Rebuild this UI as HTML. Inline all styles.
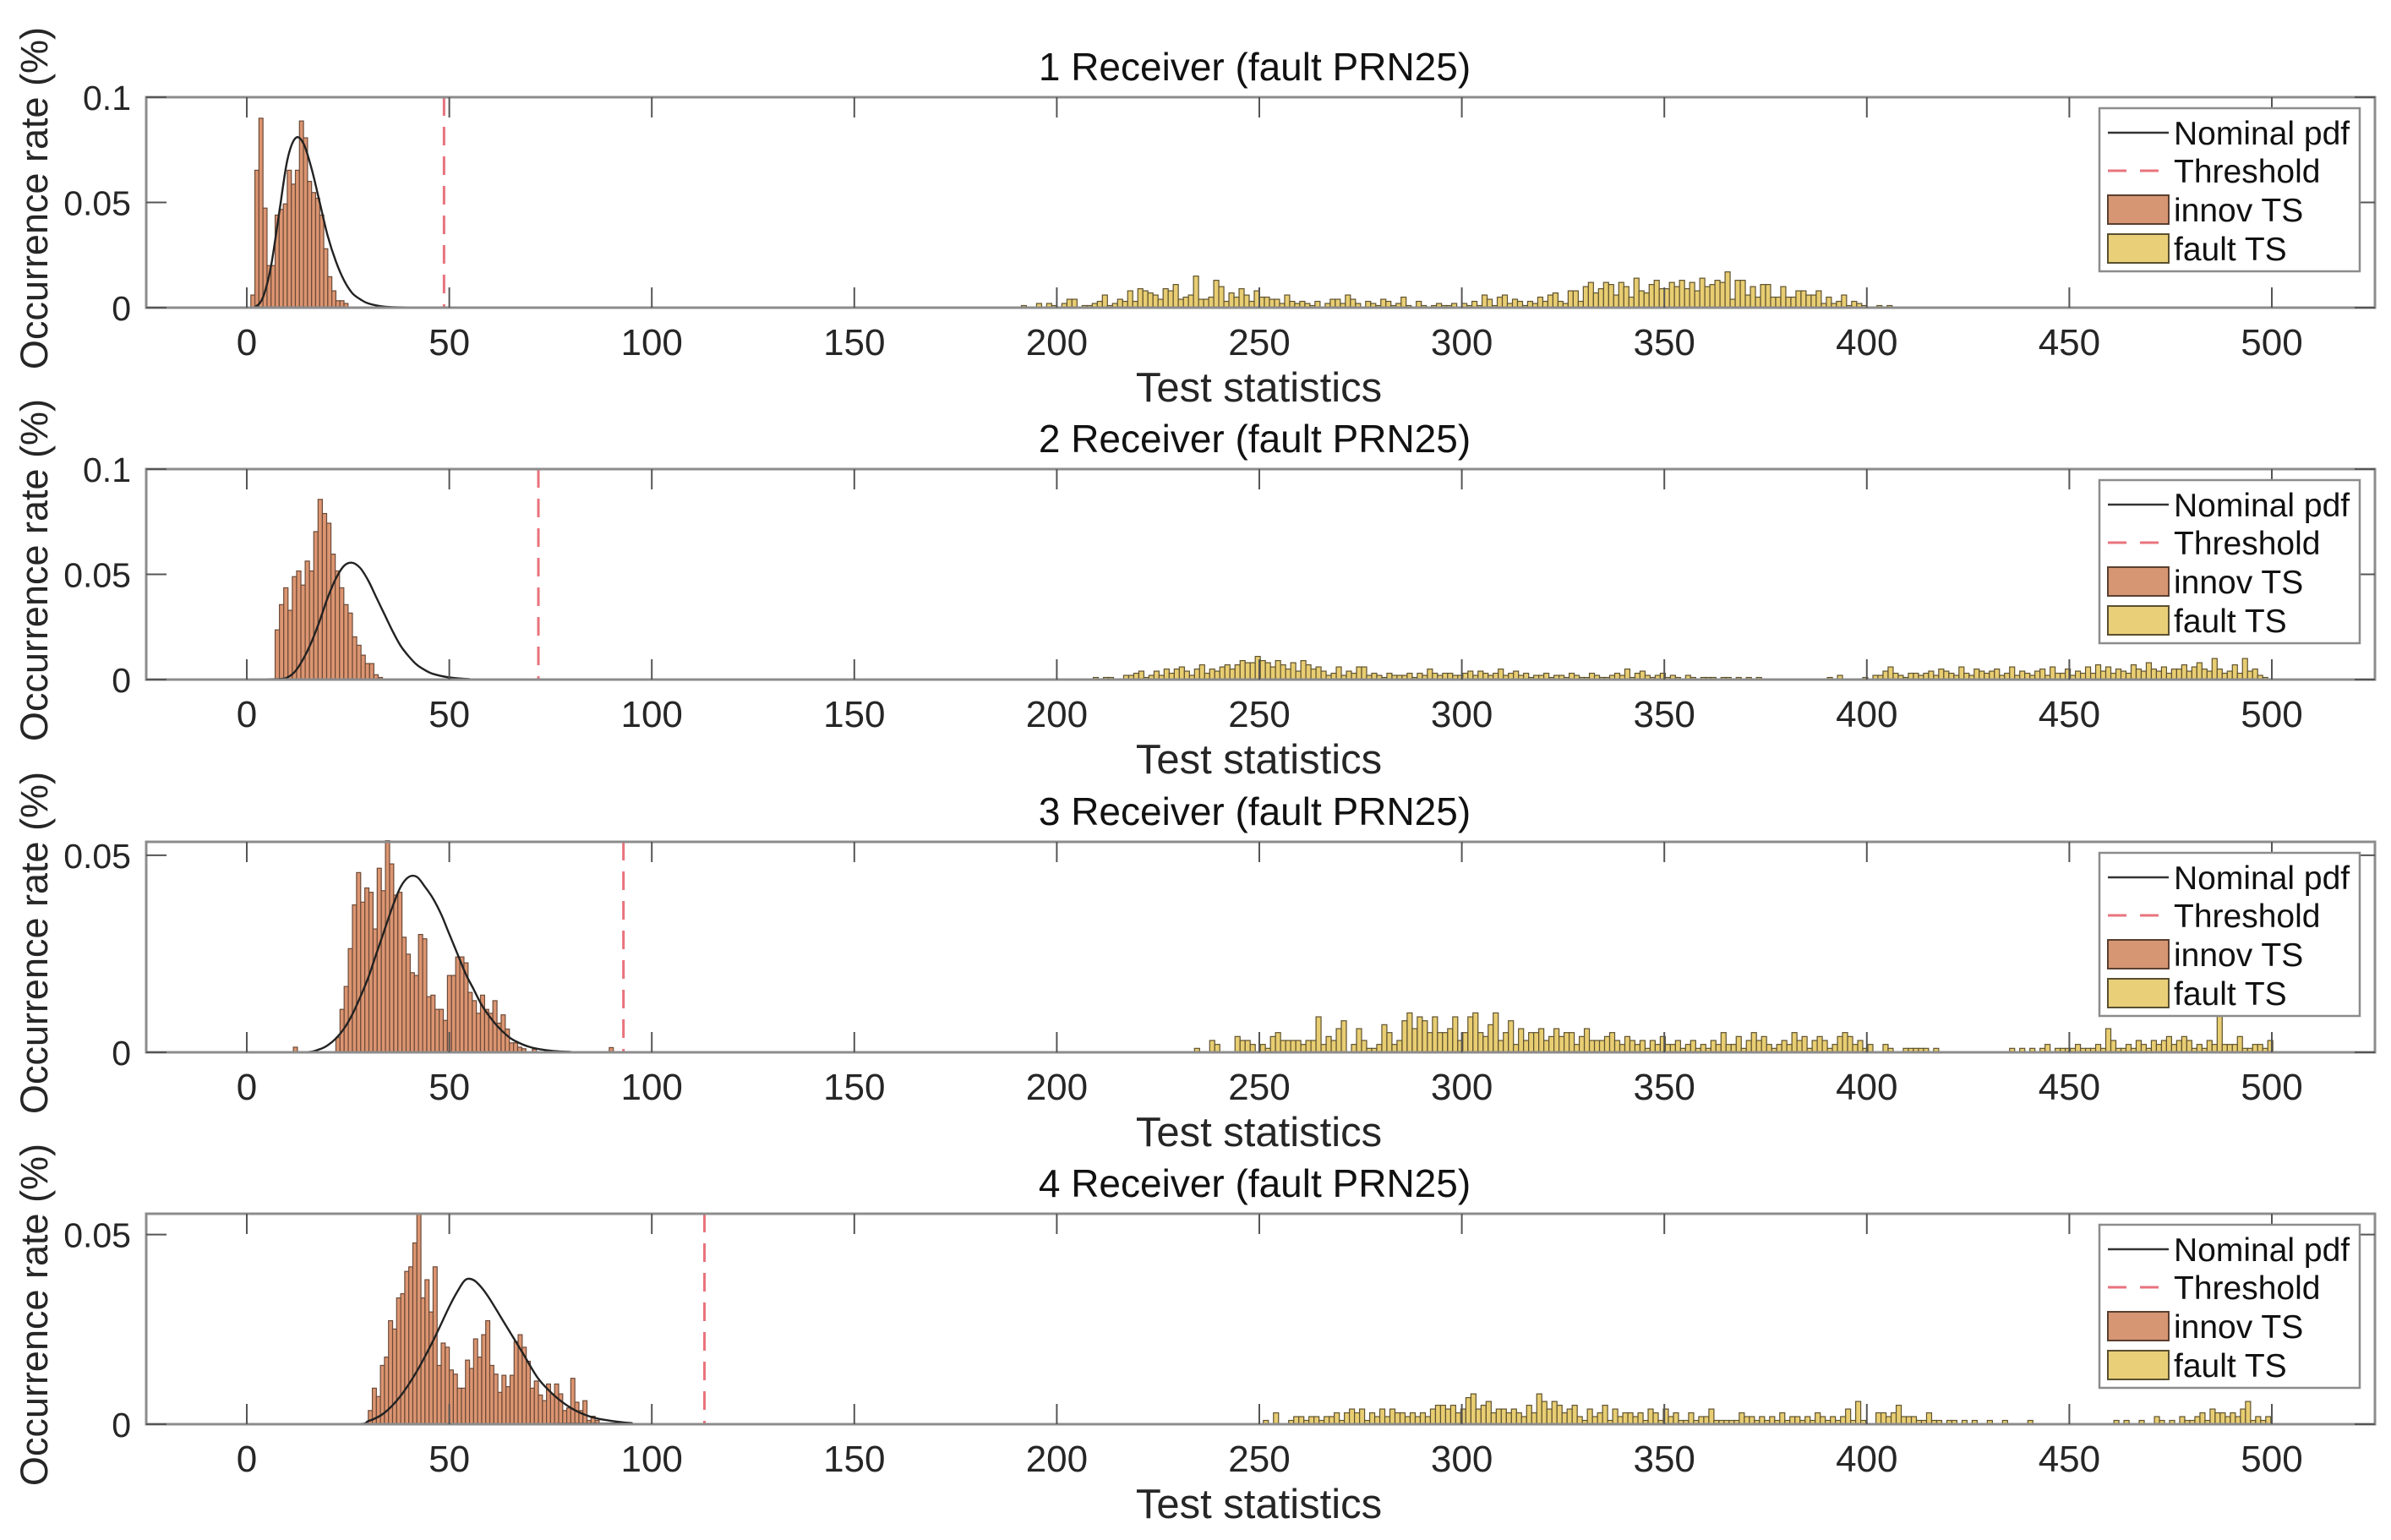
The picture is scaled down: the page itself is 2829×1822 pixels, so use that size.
<!DOCTYPE html>
<html><head><meta charset="utf-8">
<style>
html,body{margin:0;padding:0;background:#fff;}
svg{display:block;font-family:"Liberation Sans",Arial,sans-serif;}
</style></head>
<body>
<svg id="chart" width="2829" height="1822" viewBox="0 0 2829 1822" xmlns="http://www.w3.org/2000/svg"></svg>
<script>
// ---------- data ----------
const panelTitles = ["1 Receiver (fault PRN25)","2 Receiver (fault PRN25)","3 Receiver (fault PRN25)","4 Receiver (fault PRN25)"];
const xTicks = [0,50,100,150,200,250,300,350,400,450,500];
const yMaxes = [0.1,0.1,0.0534,0.0555];
const yTicks1 = [0,0.05,0.1];
const yTicks2 = [0,0.05,0.1];
const yTicks3 = [0,0.05];
const yTicks4 = [0,0.05];
const yTickLabels1 = ["0","0.05","0.1"];
const yTickLabels2 = ["0","0.05","0.1"];
const yTickLabels3 = ["0","0.05"];
const yTickLabels4 = ["0","0.05"];
const thresholds = [48.7,72,93,113];

// innovation histogram (start bin, bin width, values)
const innovStart = [1,7,22,30];
const innovBinWidth = [1,1.06,1.02,1.0];
const innov1 = [.006,.0653,.09,.0473,.02,.02,.044,.0467,.0493,.0653,.0587,.0653,.0887,.0807,.06,.0547,.052,.044,.028,.0147,.008,.0033,.0033,.002];
const innov2 = [.0236,.0356,.0436,.0329,.0489,.0516,.0449,.0563,.0516,.0703,.0856,.0789,.0743,.0596,.0516,.0436,.0356,.0316,.0203,.0163,.0116,.0076,.0076,.0023,.001];
const innov3 = [.0038,.0109,.0167,.0263,.0374,.0456,.0381,.0417,.0406,.0313,.0467,.041,.0537,.0478,.0399,.0406,.0292,.0249,.0202,.0195,.0299,.0288,.0141,.0145,.0109,.0109,.0081,.0195,.0195,.0242,.0242,.0227,.0152,.0131,.0099,.0145,.0109,.0099,.0131,.0074,.0095,.0059,.0024,.0024,.0013,.0009];
const innov4 = [.0036,.0095,.0073,.0155,.0177,.0273,.0251,.0333,.0344,.0403,.0415,.0478,.0556,.0333,.0381,.0296,.0415,.0155,.0214,.0203,.0143,.0132,.0095,.0095,.0169,.0147,.0225,.0177,.0236,.0273,.0155,.0132,.0084,.0129,.0099,.0129,.0218,.0236,.0203,.0166,.0095,.0114,.0077,.0062,.0106,.008,.0106,.008,.0036,.0043,.0121,.0058,.0036,.0062,.001,.0021,.001];
const innovOutliers3X = [11.5,70.5,89.5];
const innovOutliers3Y = [.0013,.0008,.0012];

// fault histogram (start, bin width, values in per-mille)
const faultStart = [190,209,234,251];
const faultBinWidth = [1.25,1.25,1.25,1.25];
const fault1 = [0,1,0,0,2,0,2,1, 0,2,4,4,0,1,1,2, 3,6,1,2,4,3,8,3, 9,8,7,6,4,9,8,11, 4,5,6,15,4,4,5,13, 10,3,7,5,9,6,3,8, 5,5,4,4,2,6,3,2, 3,2,1,3,0,2,4,4, 2,6,4,2,0,3,2,1, 4,3,1,2,5,1,0,3, 1,0,1,2,1,1,2,0, 2,1,3,1,6,4,1,5, 6,2,4,3,1,3,2,5, 3,6,7,3,2,8,8,3, 10,12,7,9,12,11,6,12, 10,5,14,8,7,11,13,9, 9,12,10,13,9,12,8,14, 10,11,13,12,17,4,13,13, 6,10,5,11,11,5,5,10, 5,5,8,8,6,6,8,2, 5,2,3,6,1,3,2,1, 0,0,1,0,1,0,0,0];
const fault2 = [1,0,1,1,0,0,2,2, 3,4,1,2,4,2,5,3, 5,6,4,2,5,7,3,5, 4,6,7,5,7,9,8,8, 11,9,8,6,9,7,5,8, 4,9,7,5,6,4,2,3, 6,2,4,3,6,6,2,3, 2,1,3,2,2,2,3,1, 3,2,5,3,2,3,3,2, 2,3,4,2,4,3,2,3, 5,2,3,4,2,3,1,2, 2,3,1,2,2,1,3,2, 1,1,3,2,1,1,2,3, 2,5,1,3,4,2,1,2, 3,1,2,1,0,2,1,0, 1,1,1,0,1,1,0,1, 0,1,0,1,0,0,0,0, 0,0,0,0,0,0,0,0, 0,1,0,2,0,0,0,0, 1,0,2,2,4,6,3,2, 1,3,3,2,3,4,2,5, 4,3,2,6,3,2,5,4, 3,4,5,2,3,6,2,4, 3,2,4,5,2,6,3,3, 5,2,4,3,6,3,7,4, 6,3,5,4,3,7,5,4, 8,5,4,6,3,5,5,7, 4,6,8,5,4,10,5,3, 4,7,3,10,4,5,2,1];
const fault3 = [1,0,0,3,2,0,0,0, 4,3,3,2,0,2,1,4, 5,3,3,3,3,2,3,3, 9,2,4,3,6,8,0,2, 6,3,1,1,2,7,5,2, 3,8,10,6,9,8,5,9, 5,5,6,9,3,5,9,10, 5,4,7,10,3,5,8,2, 6,3,5,5,6,3,4,6, 4,5,5,2,4,6,3,3, 3,4,5,3,2,4,3,2, 3,1,3,2,4,2,2,3, 1,2,3,1,2,1,3,2, 5,2,2,4,1,3,5,3, 4,2,1,2,3,2,5,3, 4,1,3,4,3,1,2,4, 5,4,2,3,1,2,0,0, 2,1,0,0,1,1,1,1, 1,0,1,0,0,0,0,0, 0,0,0,0,0,0,0,0, 0,1,0,1,0,1,0,1, 2,0,1,1,1,1,2,1, 1,1,2,1,6,3,1,1, 2,1,3,2,1,3,2,3, 4,2,3,4,3,1,2,1, 3,2,10,2,2,2,4,1, 1,2,2,1,3];
const fault4 = [1,0,3,0,0,1,2,2, 1,2,2,1,2,2,3,1, 3,4,3,4,1,3,2,4, 2,4,3,3,2,3,2,3, 2,4,5,5,4,5,3,4, 7,8,4,5,6,3,4,4, 3,4,3,2,5,3,8,6, 4,6,5,3,4,5,2,1, 4,2,3,5,1,4,2,3, 3,2,3,1,4,3,1,4, 2,3,1,1,3,1,2,2, 4,1,1,1,1,1,3,2, 2,1,2,1,2,1,3,1, 2,2,1,2,1,3,2,1, 2,1,2,4,1,6,1,0, 0,3,3,2,3,5,2,2, 2,1,1,3,1,1,0,1, 1,0,1,0,1,0,0,1, 0,0,1,0,0,0,0,1, 0,0,0,0,0,0,0,0, 0,0,0,0,0,0,0,0, 1,0,1,0,0,1,0,0, 2,1,0,1,0,2,1,1, 2,3,1,4,3,3,2,3, 2,4,6,1,2,1,2];

// nominal pdf samples
const pdfX1 = [0,2,4,6,8,10,12,14,16,18,20,22,24,26,28,30,34,40,50,500];
const pdfY1 = [0,.0003,.005,.02,.045,.07,.0805,.078,.066,.05,.034,.022,.013,.007,.004,.002,.0005,.0001,0,0];
const pdfX2 = [0,8,10,12,14,16,18,20,22,24,26,28,30,32,34,36,38,40,42,44,46,50,55,60,500];
const pdfY2 = [0,.0003,.001,.004,.01,.018,.028,.039,.048,.054,.0555,.053,.047,.039,.031,.023,.016,.011,.007,.0045,.0027,.001,.0002,0,0];
const pdfX3 = [0,14,18,20,22,24,26,28,30,32,34,36,38,40,42,44,46,48,50,52,54,56,58,60,62,64,66,70,75,80,90,500];
const pdfY3 = [0,0,.0008,.0018,.0035,.006,.0095,.014,.019,.025,.031,.037,.042,.0445,.0445,.042,.039,.035,.030,.025,.020,.016,.012,.009,.0065,.0045,.003,.0013,.0004,.0001,0,0];
const pdfX4 = [0,26,30,34,38,42,46,50,52,54,56,58,60,64,68,72,76,80,84,88,95,105,500];
const pdfY4 = [0,0,.0008,.003,.0075,.014,.022,.031,.035,.0381,.038,.036,.033,.026,.019,.012,.0075,.0043,.0023,.0012,.0003,0,0];

const legendLabels = ["Nominal pdf","Threshold","innov TS","fault TS"];

// ---------- layout ----------
const NS = "http://www.w3.org/2000/svg";
const svg = document.getElementById('chart');
const AX_L = 173, AX_R = 2810, X0 = 292, X500 = 2688;
const panelTops = [115,555,996,1436];
const PH = 249;
const xs = v => X0 + (X500 - X0) * v / 500;
function mk(tag, attrs, parent){ const e=document.createElementNS(NS,tag); for(const k in attrs) e.setAttribute(k,attrs[k]); (parent||svg).appendChild(e); return e; }

const innovs=[innov1,innov2,innov3,innov4];
const faults=[fault1,fault2,fault3,fault4];
const pdfXs=[pdfX1,pdfX2,pdfX3,pdfX4], pdfYs=[pdfY1,pdfY2,pdfY3,pdfY4];
const yTicksAll=[yTicks1,yTicks2,yTicks3,yTicks4];
const yLabelsAll=[yTickLabels1,yTickLabels2,yTickLabels3,yTickLabels4];

function smoothPath(pts){
  let d = "M"+pts[0][0].toFixed(1)+","+pts[0][1].toFixed(1);
  for(let i=0;i<pts.length-1;i++){
    const p0=pts[Math.max(0,i-1)],p1=pts[i],p2=pts[i+1],p3=pts[Math.min(pts.length-1,i+2)];
    if(p2[0]-p1[0]>200){ d+=" L"+p2[0].toFixed(1)+","+p2[1].toFixed(1); continue; }
    const c1=[p1[0]+(p2[0]-p0[0])/6,p1[1]+(p2[1]-p0[1])/6];
    const c2=[p2[0]-(p3[0]-p1[0])/6,p2[1]-(p3[1]-p1[1])/6];
    d+=" C"+c1[0].toFixed(1)+","+c1[1].toFixed(1)+" "+c2[0].toFixed(1)+","+c2[1].toFixed(1)+" "+p2[0].toFixed(1)+","+p2[1].toFixed(1);
  }
  return d;
}

for(let p=0;p<4;p++){
  const top=panelTops[p], bot=top+PH, ymax=yMaxes[p];
  const ys = v => bot - PH * v / ymax;
  const g = mk('g',{});
  
  

  mk('rect',{x:AX_L,y:top,width:AX_R-AX_L,height:PH,fill:'#fff'},g);

  // innov bars
  const bi = mk('g',{},g);
  
  
  const iv=innovs[p], bw=innovBinWidth[p];
  for(let i=0;i<iv.length;i++){
    const x1=xs(innovStart[p]+i*bw), x2=xs(innovStart[p]+(i+1)*bw);
    const r=mk('rect',{x:x1,y:ys(iv[i]),width:x2-x1,height:bot-ys(iv[i]),fill:'#dc9571',stroke:'#6b4a38','stroke-width':1.2},bi);
    
    
  }
  if(p===2){
    for(let i=0;i<innovOutliers3X.length;i++){
      const x1=xs(innovOutliers3X[i]), x2=xs(innovOutliers3X[i]+1);
      const r=mk('rect',{x:x1,y:ys(innovOutliers3Y[i]),width:x2-x1,height:bot-ys(innovOutliers3Y[i]),fill:'#dc9571',stroke:'#6b4a38','stroke-width':1.2},bi);
      
      
    }
  }
  // fault bars
  const bf = mk('g',{},g);
  
  
  const fv=faults[p], fw=faultBinWidth[p];
  for(let i=0;i<fv.length;i++){
    if(fv[i]<=0) continue;
    const v=fv[i]/1000;
    const x1=xs(faultStart[p]+i*fw), x2=xs(faultStart[p]+(i+1)*fw);
    const r=mk('rect',{x:x1,y:ys(v),width:x2-x1,height:bot-ys(v),fill:'#e8cd72',stroke:'#5e5230','stroke-width':1.2},bf);
    
    
  }
  // pdf
  const pts=pdfXs[p].map((x,i)=>[xs(x),ys(pdfYs[p][i])]);
  const pl=mk('path',{d:smoothPath(pts),fill:'none',stroke:'#222','stroke-width':2.4},g);
  
  
  // threshold
  const th=mk('line',{x1:xs(thresholds[p]),x2:xs(thresholds[p]),y1:top,y2:bot,stroke:'#e9737d','stroke-width':3,'stroke-dasharray':'22,13'},g);
  
  

  // axes box
  const box=mk('rect',{x:AX_L,y:top,width:AX_R-AX_L,height:PH,fill:'none',stroke:'#8c8c8c','stroke-width':3},g);
  
  
  // x ticks
  xTicks.forEach(t=>{
    const x=xs(t);
    mk('line',{x1:x,x2:x,y1:bot,y2:bot-24,stroke:'#555','stroke-width':2},g);
    mk('line',{x1:x,x2:x,y1:top,y2:top+24,stroke:'#555','stroke-width':2},g);
    const tl=mk('text',{x:x,y:bot+56,'font-size':44,'text-anchor':'middle',fill:'#262626'},g);
    tl.textContent=String(t);
    
    
  });
  // y ticks
  yTicksAll[p].forEach((t,i)=>{
    const y=ys(t);
    mk('line',{x1:AX_L,x2:AX_L+24,y1:y,y2:y,stroke:'#555','stroke-width':2},g);
    mk('line',{x1:AX_R,x2:AX_R-24,y1:y,y2:y,stroke:'#555','stroke-width':2},g);
    const tl=mk('text',{x:AX_L-18,y:y+15,'font-size':41,'text-anchor':'end',fill:'#262626'},g);
    tl.textContent=yLabelsAll[p][i];
    
    
  });
  // title
  const tt=mk('text',{x:(AX_L+AX_R)/2-7,y:top-20,'font-size':46,'text-anchor':'middle',fill:'#111'},g);
  tt.textContent=panelTitles[p];
  
  
  // x label
  const xl=mk('text',{x:(AX_L+AX_R)/2-2,y:bot+111,'font-size':49,'text-anchor':'middle',fill:'#262626'},g);
  xl.textContent='Test statistics';
  
  
  // y label
  const cy=top+PH/2-5;
  const yl=mk('text',{x:0,y:0,'font-size':45,'text-anchor':'middle',fill:'#262626',transform:'translate(56,'+cy+') rotate(-90)'},g);
  yl.textContent='Occurrence rate (%)';
  
  

  // legend
  const lg=mk('g',{},g);
  
  
  const lx=2484, ly=top+13;
  mk('rect',{x:lx,y:ly,width:308,height:193,fill:'#fff',stroke:'#8c8c8c','stroke-width':2.5},lg);
  const rowsY=[ly+29,ly+74,ly+120,ly+166];
  mk('line',{x1:lx+10,x2:lx+82,y1:rowsY[0],y2:rowsY[0],stroke:'#333','stroke-width':2.4},lg);
  mk('line',{x1:lx+10,x2:lx+82,y1:rowsY[1],y2:rowsY[1],stroke:'#e9737d','stroke-width':3,'stroke-dasharray':'22,16'},lg);
  mk('rect',{x:lx+10,y:rowsY[2]-17,width:72,height:34,fill:'#d69573',stroke:'#5a4030','stroke-width':2},lg);
  mk('rect',{x:lx+10,y:rowsY[3]-17,width:72,height:34,fill:'#e8cf78',stroke:'#5a5030','stroke-width':2},lg);
  legendLabels.forEach((s,i)=>{
    const t=mk('text',{x:lx+88,y:rowsY[i]+14,'font-size':39,fill:'#111'},lg);
    t.textContent=s;
    
    
  });
}
</script>
</body></html>
